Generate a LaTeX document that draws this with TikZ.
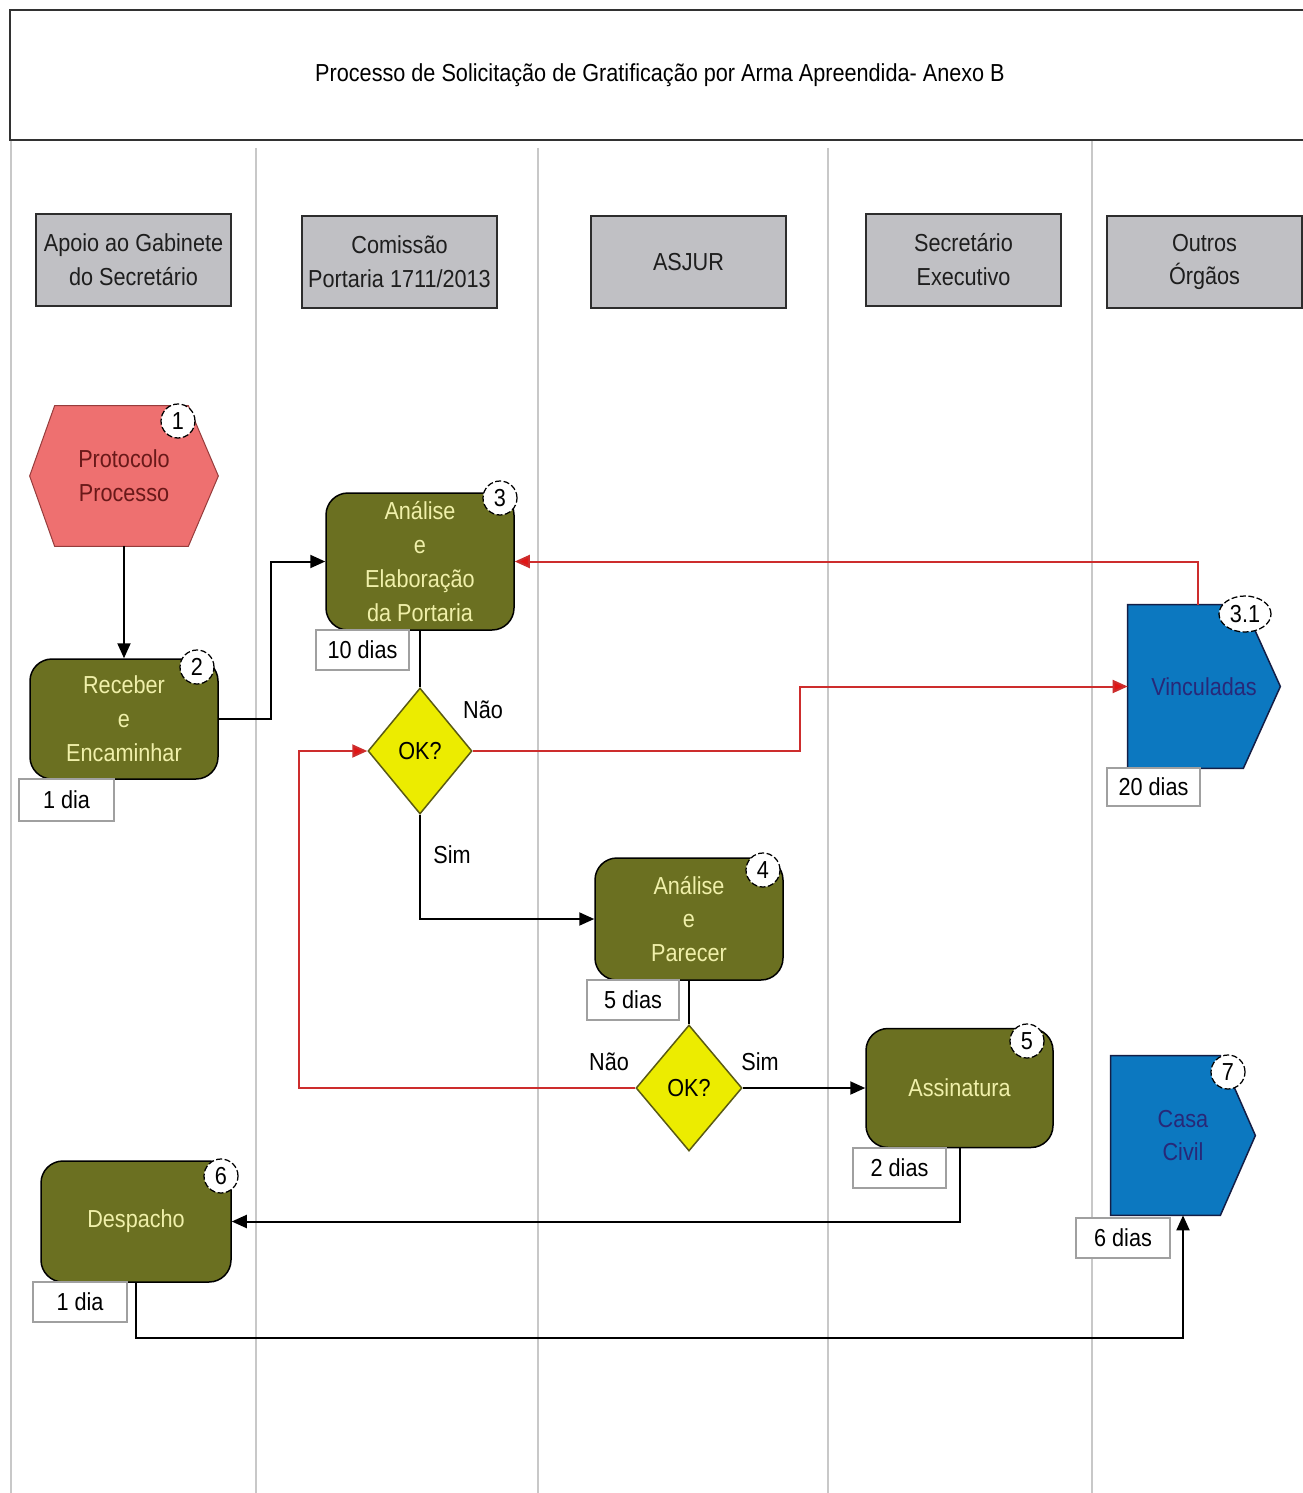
\documentclass[tikz,border=0pt]{standalone}
\usepackage{fontspec}
\setmainfont{Liberation Sans}[FakeStretch=0.88]
\usetikzlibrary{shapes.geometric,arrows.meta,calc}

\definecolor{olive}{RGB}{107,112,33}
\definecolor{olivetext}{RGB}{240,240,170}
\definecolor{pinkfill}{RGB}{238,112,112}
\definecolor{pinktext}{RGB}{105,25,25}
\definecolor{bluefill}{RGB}{12,120,192}
\definecolor{bluetext}{RGB}{40,40,120}
\definecolor{okyellow}{RGB}{236,236,0}
\definecolor{hdrgray}{RGB}{192,192,196}
\definecolor{lanegray}{RGB}{200,200,200}
\definecolor{redline}{RGB}{205,45,45}
\definecolor{redtip}{RGB}{225,20,20}
\definecolor{boxgray}{RGB}{160,160,160}

\pgfdeclarelayer{lanes}
\pgfdeclarelayer{shapes}
\pgfsetlayers{lanes,shapes,main}

\def\uu{0.2mm}

\begin{document}
\begin{tikzpicture}[x=0.2mm,y=-0.2mm,
  txt/.style={font=\fontsize{14}{19.3}\selectfont, align=center},
  titlebox/.style={txt, draw={rgb,255:red,50;green,50;blue,50}, line width=0.45mm,
    minimum width=1300*\uu, minimum height=130*\uu, inner sep=0},
  header/.style={txt, draw={rgb,255:red,45;green,45;blue,45}, line width=0.35mm, fill=hdrgray,
    text={rgb,255:red,30;green,30;blue,30}, minimum width=195*\uu, minimum height=92*\uu, inner sep=0},
  lane/.style={draw=lanegray, line width=0.3mm},
  task/.style={txt, rectangle, rounded corners=4.4mm, fill=olive, draw=black, line width=0.3mm,
    text=olivetext, inner sep=0},
  area/.style={txt, rectangle, inner sep=0},
  decision/.style={txt, diamond, fill=okyellow, draw={rgb,255:red,90;green,90;blue,20},
    line width=0.3mm, minimum width=104*\uu, minimum height=126*\uu, inner sep=0},
  badge/.style={txt, circle, fill=white, draw=black, line width=0.25mm,
    dash pattern=on 1.2mm off 0.5mm, minimum size=34*\uu, inner sep=0},
  timebox/.style={txt, rectangle, fill=white, draw=boxgray, line width=0.25mm,
    minimum width=93*\uu, minimum height=40*\uu, inner sep=0},
  lbl/.style={txt, text=black},
  arr/.style={draw=black, line width=0.4mm, -{Triangle[length=3mm,width=2.6mm]}},
  conn/.style={draw=black, line width=0.4mm},
  redarr/.style={draw=redline, line width=0.4mm, -{Triangle[length=3mm,width=2.6mm,fill=redtip]}},
]
\useasboundingbox (0,0) rectangle (1302,1493);

% page background and swimlane separators
\begin{pgfonlayer}{lanes}
  \fill[white] (0,0) rectangle (1302,1493);
  \draw[lane] (11,140) -- (11,1493);
  \draw[lane] (256,148) -- (256,1493);
  \draw[lane] (538,148) -- (538,1493);
  \draw[lane] (828,148) -- (828,1493);
  \draw[lane] (1092,140) -- (1092,1493);
\end{pgfonlayer}

% title
\node[titlebox] (title) at (660,75) {Processo de Solicitação de Gratificação por Arma Apreendida- Anexo B};

% lane headers
\node[header] (h1) at (133.5,260) {Apoio ao Gabinete\\do Secretário};
\node[header] (h2) at (399.5,262) {Comissão\\Portaria 1711/2013};
\node[header] (h3) at (688.5,262) {ASJUR};
\node[header] (h4) at (963.5,260) {Secretário\\Executivo};
\node[header] (h5) at (1204.5,262) {Outros\\Órgãos};

% process steps
\node[area, text=pinktext, minimum width=188*\uu, minimum height=140*\uu] (n1) at (124,476) {Protocolo\\Processo};
\node[task, minimum width=188*\uu, minimum height=120*\uu] (n2) at (124,719) {Receber\\e\\Encaminhar};
\node[task, minimum width=188*\uu, minimum height=137*\uu] (n3) at (420,561.5) {Análise\\e\\Elaboração\\da Portaria};
\node[decision] (d1) at (420,751) {OK?};
\node[area, text=bluetext, minimum width=152*\uu, minimum height=163*\uu] (n31) at (1204,686.5) {Vinculadas};
\node[task, minimum width=188*\uu, minimum height=122*\uu] (n4) at (689,919) {Análise\\e\\Parecer};
\node[decision, minimum width=106*\uu] (d2) at (689,1088) {OK?};
\node[task, minimum width=187*\uu, minimum height=119*\uu] (n5) at (959.5,1088) {Assinatura};
\node[task, minimum width=190*\uu, minimum height=121*\uu] (n6) at (136,1221.5) {Despacho};
\node[area, text=bluetext, minimum width=144*\uu, minimum height=159*\uu] (n7) at (1183,1135.5) {Casa\\Civil};

% outlines of the event and interface shapes
\begin{pgfonlayer}{shapes}
  \path[fill=pinkfill, draw={rgb,255:red,150;green,60;blue,60}, line width=0.2mm]
    ([xshift=5mm]n1.north west) -- ([xshift=-6mm]n1.north east) -- (n1.east)
    -- ([xshift=-6mm]n1.south east) -- ([xshift=5mm]n1.south west) -- (n1.west) -- cycle;
  \path[fill=bluefill, draw={rgb,255:red,20;green,30;blue,70}, line width=0.3mm]
    (n31.north west) -- ([xshift=-7.4mm]n31.north east) -- (n31.east)
    -- ([xshift=-7.4mm]n31.south east) -- (n31.south west) -- cycle;
  \path[fill=bluefill, draw={rgb,255:red,20;green,30;blue,70}, line width=0.3mm]
    (n7.north west) -- ([xshift=-7mm]n7.north east) -- (n7.east)
    -- ([xshift=-7mm]n7.south east) -- (n7.south west) -- cycle;
\end{pgfonlayer}

% durations
\node[timebox, minimum width=95*\uu, minimum height=42*\uu] (t2) at (66.5,800) {1 dia};
\node[timebox] (t3) at (362.5,650) {10 dias};
\node[timebox, minimum height=38*\uu] (t31) at (1153.5,787) {20 dias};
\node[timebox, minimum width=92*\uu] (t4) at (633,1000) {5 dias};
\node[timebox] (t5) at (899.5,1168) {2 dias};
\node[timebox, minimum width=94*\uu] (t6) at (80,1302) {1 dia};
\node[timebox, minimum width=94*\uu] (t7) at (1123,1238) {6 dias};

% step numbers
\node[badge] (b1) at (178,421) {1};
\node[badge] (b2) at (197,667) {2};
\node[badge] (b3) at (500,498) {3};
\node[badge, ellipse, minimum width=52*\uu, minimum height=36*\uu] (b31) at (1245,614) {3.1};
\node[badge] (b4) at (763,870) {4};
\node[badge] (b5) at (1027,1041) {5};
\node[badge] (b6) at (221,1176) {6};
\node[badge] (b7) at (1228,1072) {7};

% bend points of the return paths
\coordinate (c1) at (800,0);
\coordinate (c2) at (299,0);

% flow
\draw[arr] (n1.south) -- (n2.north);
\draw[arr] (n2.east) -- ++(52,0) |- (n3.west);
\draw[conn] (n3.south) -- (d1.north);
\draw[redarr] (d1.east) -| (c1 |- n31.west) -- (n31.west);
\draw[redarr] ([xshift=-1.2mm]n31.north) |- (n3.east);
\draw[arr] (d1.south) |- (n4.west);
\draw[conn] (n4.south) -- (d2.north);
\draw[arr] (d2.east) -- (n5.west);
\draw[redarr] (d2.west) -| (c2 |- d1.west) -- (d1.west);
\draw[arr] (n5.south) |- (n6.east);
\draw[arr] (n6.south) -- ++(0,55) -| (n7.south);

% branch labels
\node[lbl] (l1) at (483,710) {Não};
\node[lbl] (l2) at (452,855) {Sim};
\node[lbl] (l3) at (609,1062) {Não};
\node[lbl] (l4) at (760,1062) {Sim};
\end{tikzpicture}
\end{document}
